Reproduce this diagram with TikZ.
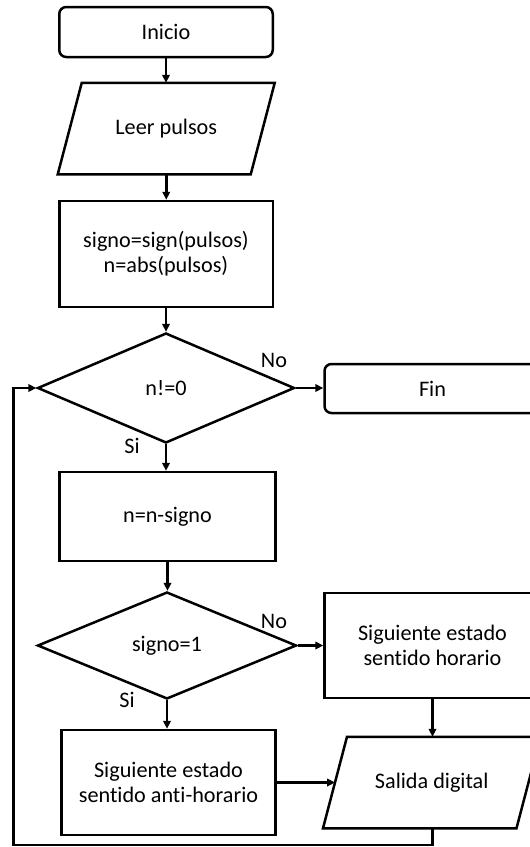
\documentclass[tikz,border=0pt]{standalone}
\usepackage{fontspec}
\setmainfont{Carlito}[Ligatures=NoCommon]
\usetikzlibrary{shapes.geometric,arrows.meta}
\begin{document}
\begin{tikzpicture}[x=0.5pt,y=-0.5pt,
  every node/.style={font=\fontsize{11.1}{12.6}\selectfont},
  base/.style={draw,line width=1.25pt,inner sep=0pt,align=center},
  terminal/.style={base,rectangle,rounded corners=3.5pt},
  process/.style={base,rectangle},
  io/.style={base,rectangle,draw=none},
  slanted/.style={line width=1.25pt,line join=miter},
  decision/.style={base,diamond},
  flow/.style={line width=1.25pt,-{Triangle[length=4pt,width=3.8pt]}},
  lbl/.style={inner sep=0pt}
]
\useasboundingbox (0,0) rectangle (530,847);
\clip (0,0) rectangle (530,847);

% main column
\node[terminal,minimum width=106.75pt,minimum height=25pt] (inicio) at (166,32) {Inicio};
\node[io,minimum width=95.25pt,minimum height=44.5pt] (leer) at (166.25,128.5) {Leer pulsos};
\node[process,minimum width=106.75pt,minimum height=53pt] (init) at (166,254) {signo=sign(pulsos)\\n=abs(pulsos)};
\node[decision,minimum width=128.5pt,minimum height=55pt] (cond) at (166,388) {n!=0};
\node[terminal,minimum width=108pt,minimum height=24.5pt] (fin) at (432.5,388.5) {Fin};
\node[process,minimum width=108pt,minimum height=44.5pt] (dec) at (167.5,516.5) {n=n-signo};
\node[decision,minimum width=129.5pt,minimum height=53.5pt] (dir) at (167,645.5) {signo=1};
\node[process,minimum width=108pt,minimum height=52.5pt] (cw) at (432.5,645.5) {Siguiente estado\\sentido horario};
\node[process,minimum width=107pt,minimum height=52.5pt] (ccw) at (168.5,782.5) {Siguiente estado\\sentido anti-horario};
\node[io,minimum width=95.5pt,minimum height=44.5pt] (out) at (431.75,782.5) {Salida digital};

% input/output outlines (parallelograms leaning right)
\foreach \n in {leer,out}{
  \draw[slanted] ([xshift=-6pt]\n.south west) -- ([xshift=6pt]\n.north west)
    -- ([xshift=6pt]\n.north east) -- ([xshift=-6pt]\n.south east) -- cycle;
}

% branch labels
\node[lbl] (no1) at (274,360) {No};
\node[lbl] (si1) at (132,446) {Si};
\node[lbl] (no2) at (274,621) {No};
\node[lbl] (si2) at (127,700) {Si};

% connectors
\draw[flow] (inicio.south) -- (inicio.south |- leer.north);
\draw[flow] (leer.south) -- (leer.south |- init.north);
\draw[flow] (init.south) -- (init.south |- cond.north);
\draw[flow] (cond.east) -- (cond.east -| fin.west);
\draw[flow] (cond.south) -- (cond.south |- dec.north);
\draw[flow] (dec.south) -- (dec.south |- dir.north);
\draw[flow] (dir.east) -- (dir.east -| cw.west);
\draw[flow] (dir.south) -- (dir.south |- ccw.north);
\draw[flow] (cw.south) -- (cw.south |- out.north);
\draw[flow] (ccw.east) -- (ccw.east -| out.west);

% loop back to the test
\coordinate (loop) at (13.5,845);
\draw[flow] (cw.south |- out.south) |- (loop) |- (cond.west);
\end{tikzpicture}
\end{document}
